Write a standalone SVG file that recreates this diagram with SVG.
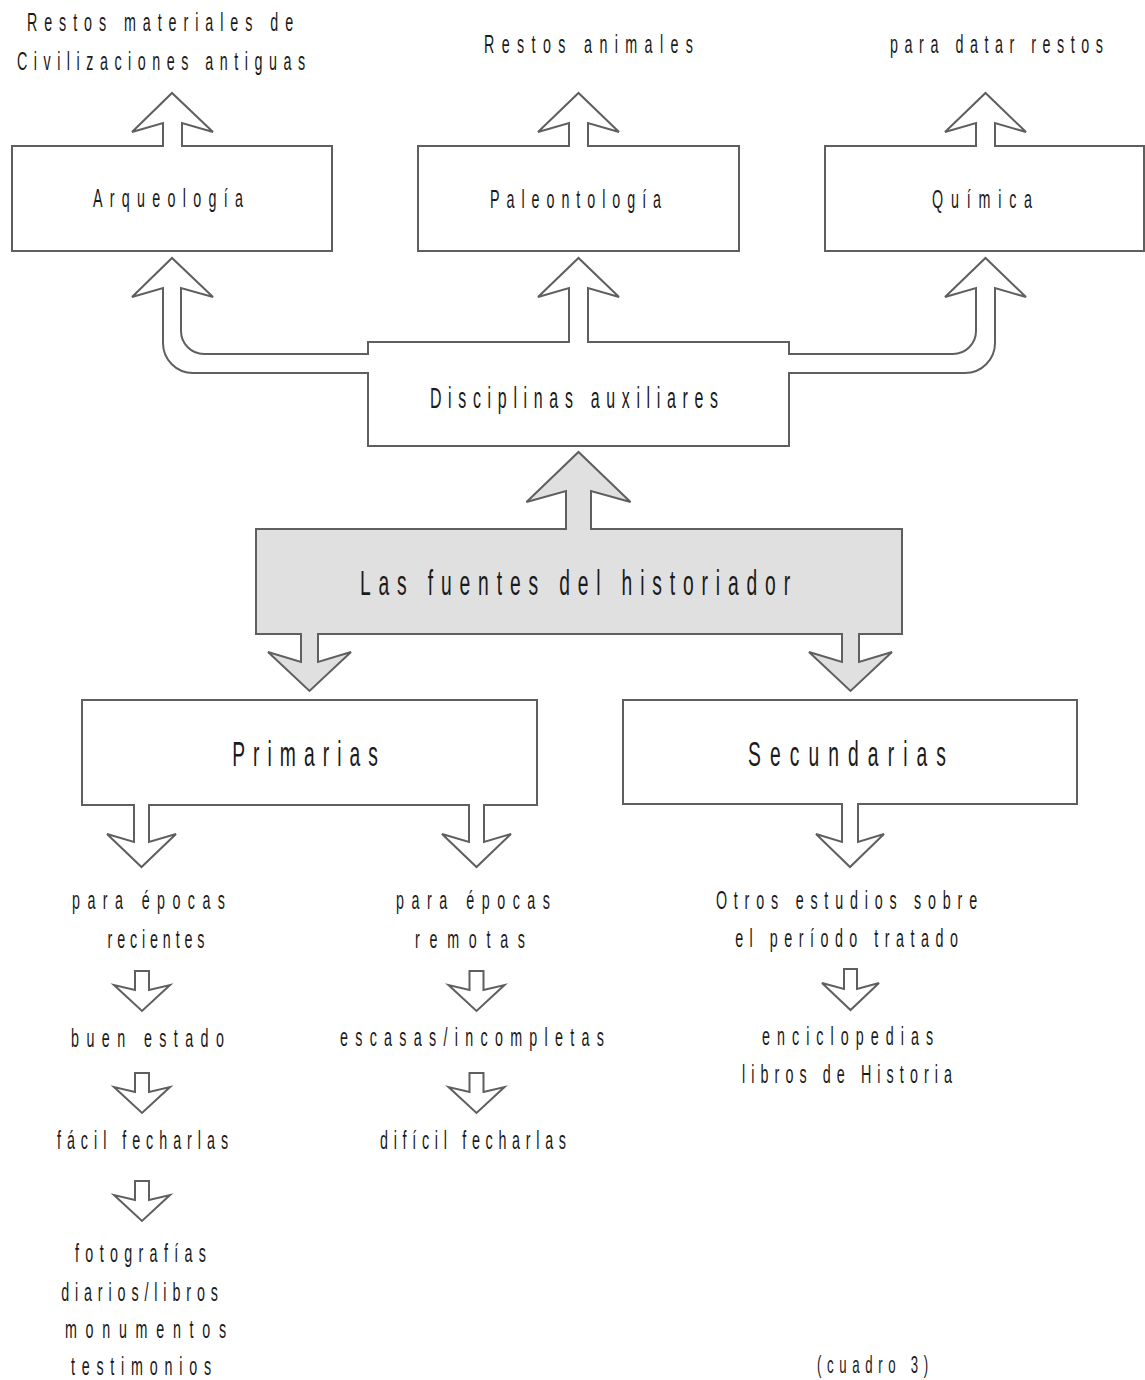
<svg xmlns="http://www.w3.org/2000/svg" width="1145" height="1380" viewBox="0 0 1145 1380">
  <style>
    .box { fill: #ffffff; stroke: #5f5f5f; stroke-width: 2; }
    .hub { fill: #e0e0e0; stroke: #5f5f5f; stroke-width: 2; }
    .ln { fill: none; stroke: #5f5f5f; stroke-width: 2; stroke-linejoin: miter; }
    .wf { fill: #ffffff; stroke: none; }
    .gf { fill: #e0e0e0; stroke: none; }
    .ar { fill: #ffffff; stroke: #5f5f5f; stroke-width: 2; stroke-linejoin: miter; }
    text { font-family: "Liberation Sans", Arial, sans-serif; fill: #1a1a1a; text-anchor: middle; }
    .s24 { font-size: 24px; }
    .s26 { font-size: 26px; }
    .s29 { font-size: 29px; }
    .s35 { font-size: 35px; }
  </style>

  <!-- nodes -->
  <g id="n-arqueologia">
    <rect class="box" x="12" y="146" width="320" height="105"/>
    <text class="s26" transform="translate(168,207) scale(0.55,1)" textLength="273" lengthAdjust="spacing">Arqueología</text>
  </g>
  <g id="n-paleontologia">
    <rect class="box" x="418" y="146" width="321" height="105"/>
    <text class="s26" transform="translate(575.5,208) scale(0.55,1)" textLength="311" lengthAdjust="spacing">Paleontología</text>
  </g>
  <g id="n-quimica">
    <rect class="box" x="825" y="146" width="319" height="105"/>
    <text class="s26" transform="translate(982,208) scale(0.55,1)" textLength="182" lengthAdjust="spacing">Química</text>
  </g>

  <g id="n-restos-materiales">
    <text class="s26" transform="translate(160,31) scale(0.55,1)" textLength="484" lengthAdjust="spacing">Restos materiales de</text>
    <text class="s26" transform="translate(161,70) scale(0.55,1)" textLength="524" lengthAdjust="spacing">Civilizaciones antiguas</text>
  </g>
  <g id="n-restos-animales">
    <text class="s26" transform="translate(588.5,53) scale(0.55,1)" textLength="380" lengthAdjust="spacing">Restos animales</text>
  </g>
  <g id="n-datar">
    <text class="s26" transform="translate(996.5,53) scale(0.55,1)" textLength="387" lengthAdjust="spacing">para datar restos</text>
  </g>

  <g id="n-disciplinas">
    <rect class="box" x="368" y="342" width="421" height="104"/>
    <text class="s29" transform="translate(574,408) scale(0.55,1)" textLength="524" lengthAdjust="spacing">Disciplinas auxiliares</text>
  </g>

  <g id="n-fuentes">
    <rect class="hub" x="256" y="529" width="646" height="105"/>
    <text class="s35" transform="translate(575,595) scale(0.55,1)" textLength="782" lengthAdjust="spacing">Las fuentes del historiador</text>
  </g>

  <g id="n-primarias">
    <rect class="box" x="82" y="700" width="455" height="105"/>
    <text class="s35" transform="translate(305,766) scale(0.55,1)" textLength="265" lengthAdjust="spacing">Primarias</text>
  </g>
  <g id="n-secundarias">
    <rect class="box" x="623" y="700" width="454" height="104"/>
    <text class="s35" transform="translate(847,766) scale(0.55,1)" textLength="360" lengthAdjust="spacing">Secundarias</text>
  </g>

  <g id="n-recientes">
    <text class="s26" transform="translate(148.5,909) scale(0.55,1)" textLength="278" lengthAdjust="spacing">para épocas</text>
    <text class="s26" transform="translate(156,948) scale(0.55,1)" textLength="176" lengthAdjust="spacing">recientes</text>
  </g>
  <g id="n-remotas">
    <text class="s26" transform="translate(473,909) scale(0.55,1)" textLength="280" lengthAdjust="spacing">para épocas</text>
    <text class="s26" transform="translate(470,948) scale(0.55,1)" textLength="200" lengthAdjust="spacing">remotas</text>
  </g>
  <g id="n-otros">
    <text class="s26" transform="translate(846.5,909) scale(0.55,1)" textLength="475" lengthAdjust="spacing">Otros estudios sobre</text>
    <text class="s26" transform="translate(846.5,947) scale(0.55,1)" textLength="405" lengthAdjust="spacing">el período tratado</text>
  </g>

  <g id="n-buen-estado">
    <text class="s26" transform="translate(147.5,1047) scale(0.55,1)" textLength="278" lengthAdjust="spacing">buen estado</text>
  </g>
  <g id="n-facil">
    <text class="s26" transform="translate(142.5,1149) scale(0.55,1)" textLength="311" lengthAdjust="spacing">fácil fecharlas</text>
  </g>
  <g id="n-ejemplos">
    <text class="s26" transform="translate(140.5,1262) scale(0.55,1)" textLength="238" lengthAdjust="spacing">fotografías</text>
    <text class="s26" transform="translate(139.5,1301) scale(0.55,1)" textLength="285" lengthAdjust="spacing">diarios/libros</text>
    <text class="s26" transform="translate(145.5,1338) scale(0.55,1)" textLength="293" lengthAdjust="spacing">monumentos</text>
    <text class="s26" transform="translate(141,1375) scale(0.55,1)" textLength="255" lengthAdjust="spacing">testimonios</text>
  </g>

  <g id="n-escasas">
    <text class="s26" transform="translate(472,1046) scale(0.55,1)" textLength="480" lengthAdjust="spacing">escasas/incompletas</text>
  </g>
  <g id="n-dificil">
    <text class="s26" transform="translate(473,1149) scale(0.55,1)" textLength="338" lengthAdjust="spacing">difícil fecharlas</text>
  </g>

  <g id="n-enciclopedias">
    <text class="s26" transform="translate(847.5,1045) scale(0.55,1)" textLength="311" lengthAdjust="spacing">enciclopedias</text>
    <text class="s26" transform="translate(847,1083) scale(0.55,1)" textLength="382" lengthAdjust="spacing">libros de Historia</text>
  </g>

  <g id="n-cuadro">
    <text class="s24" transform="translate(872.5,1373) scale(0.55,1)" textLength="202" lengthAdjust="spacing">(cuadro 3)</text>
  </g>

  <!-- connectors: block arrows, fill first to open the box border, then outline -->
  <g id="connectors">
    <!-- boxes to the labels above them -->
    <path class="wf" d="M163,148 V123 L132,132 L172,93 L213,132 L182,123 V148 Z"/>
    <path class="ln" d="M163,147 V123 L132,132 L172,93 L213,132 L182,123 V147"/>
    <path class="wf" d="M569,148 V123 L538,132 L578.5,93 L619,132 L588,123 V148 Z"/>
    <path class="ln" d="M569,147 V123 L538,132 L578.5,93 L619,132 L588,123 V147"/>
    <path class="wf" d="M976,148 V123 L945,132 L985.5,93 L1026,132 L995,123 V148 Z"/>
    <path class="ln" d="M976,147 V123 L945,132 L985.5,93 L1026,132 L995,123 V147"/>

    <!-- Disciplinas auxiliares to Arqueología (curved) -->
    <path class="wf" d="M370,373 H193 A30,30 0 0 1 163,343 V288 L132,297 L172,258 L213,297 L181,288 V331 A23,23 0 0 0 204,354 H370 Z"/>
    <path class="ln" d="M369,373 H193 A30,30 0 0 1 163,343 V288 L132,297 L172,258 L213,297 L181,288 V331 A23,23 0 0 0 204,354 H369"/>

    <!-- Disciplinas auxiliares to Paleontología -->
    <path class="wf" d="M569,344 V288 L538,297 L578.5,258 L619,297 L588,288 V344 Z"/>
    <path class="ln" d="M569,343 V288 L538,297 L578.5,258 L619,297 L588,288 V343"/>

    <!-- Disciplinas auxiliares to Química (curved) -->
    <path class="wf" d="M787,354 H953 A23,23 0 0 0 976,331 V288 L945,297 L985.5,258 L1026,297 L995,288 V343 A30,30 0 0 1 965,373 H787 Z"/>
    <path class="ln" d="M788,354 H953 A23,23 0 0 0 976,331 V288 L945,297 L985.5,258 L1026,297 L995,288 V343 A30,30 0 0 1 965,373 H788"/>

    <!-- Las fuentes del historiador up to Disciplinas auxiliares -->
    <path class="gf" d="M566,531 V491 L526.5,502 L578.5,452 L630.5,502 L591,491 V531 Z"/>
    <path class="ln" d="M566,530 V491 L526.5,502 L578.5,452 L630.5,502 L591,491 V530"/>

    <!-- Las fuentes del historiador down to Primarias / Secundarias -->
    <path class="gf" d="M301,632 V662 L268,652 L309.5,691 L351,652 L318,662 V632 Z"/>
    <path class="ln" d="M301,633 V662 L268,652 L309.5,691 L351,652 L318,662 V633"/>
    <path class="gf" d="M842,632 V662 L809,652 L850.5,691 L892,652 L859,662 V632 Z"/>
    <path class="ln" d="M842,633 V662 L809,652 L850.5,691 L892,652 L859,662 V633"/>

    <!-- Primarias down to its two branches -->
    <path class="wf" d="M134,803 V842 L107,834 L141.5,867 L176,834 L149,842 V803 Z"/>
    <path class="ln" d="M134,804 V842 L107,834 L141.5,867 L176,834 L149,842 V804"/>
    <path class="wf" d="M469,803 V842 L442,834 L476.5,867 L511,834 L484,842 V803 Z"/>
    <path class="ln" d="M469,804 V842 L442,834 L476.5,867 L511,834 L484,842 V804"/>

    <!-- Secundarias down -->
    <path class="wf" d="M842,802 V842 L816,834 L850,867 L884,834 L858,842 V802 Z"/>
    <path class="ln" d="M842,803 V842 L816,834 L850,867 L884,834 L858,842 V803"/>

    <!-- small arrows between the text labels -->
    <path class="ar" d="M135,971 H149 V990 L170,985 L142,1011 L114,985 L135,990 Z"/>
    <path class="ar" d="M135,1073 H149 V1092 L170,1087 L142,1113 L114,1087 L135,1092 Z"/>
    <path class="ar" d="M135,1181 H149 V1200 L170,1195 L142,1221 L114,1195 L135,1200 Z"/>
    <path class="ar" d="M469.5,971 H483.5 V990 L504.5,985 L476.5,1011 L448.5,985 L469.5,990 Z"/>
    <path class="ar" d="M469.5,1073 H483.5 V1092 L504.5,1087 L476.5,1113 L448.5,1087 L469.5,1092 Z"/>
    <path class="ar" d="M844,969 H857 V989 L879,983 L850.5,1010 L822,983 L844,989 Z"/>
  </g>
</svg>
